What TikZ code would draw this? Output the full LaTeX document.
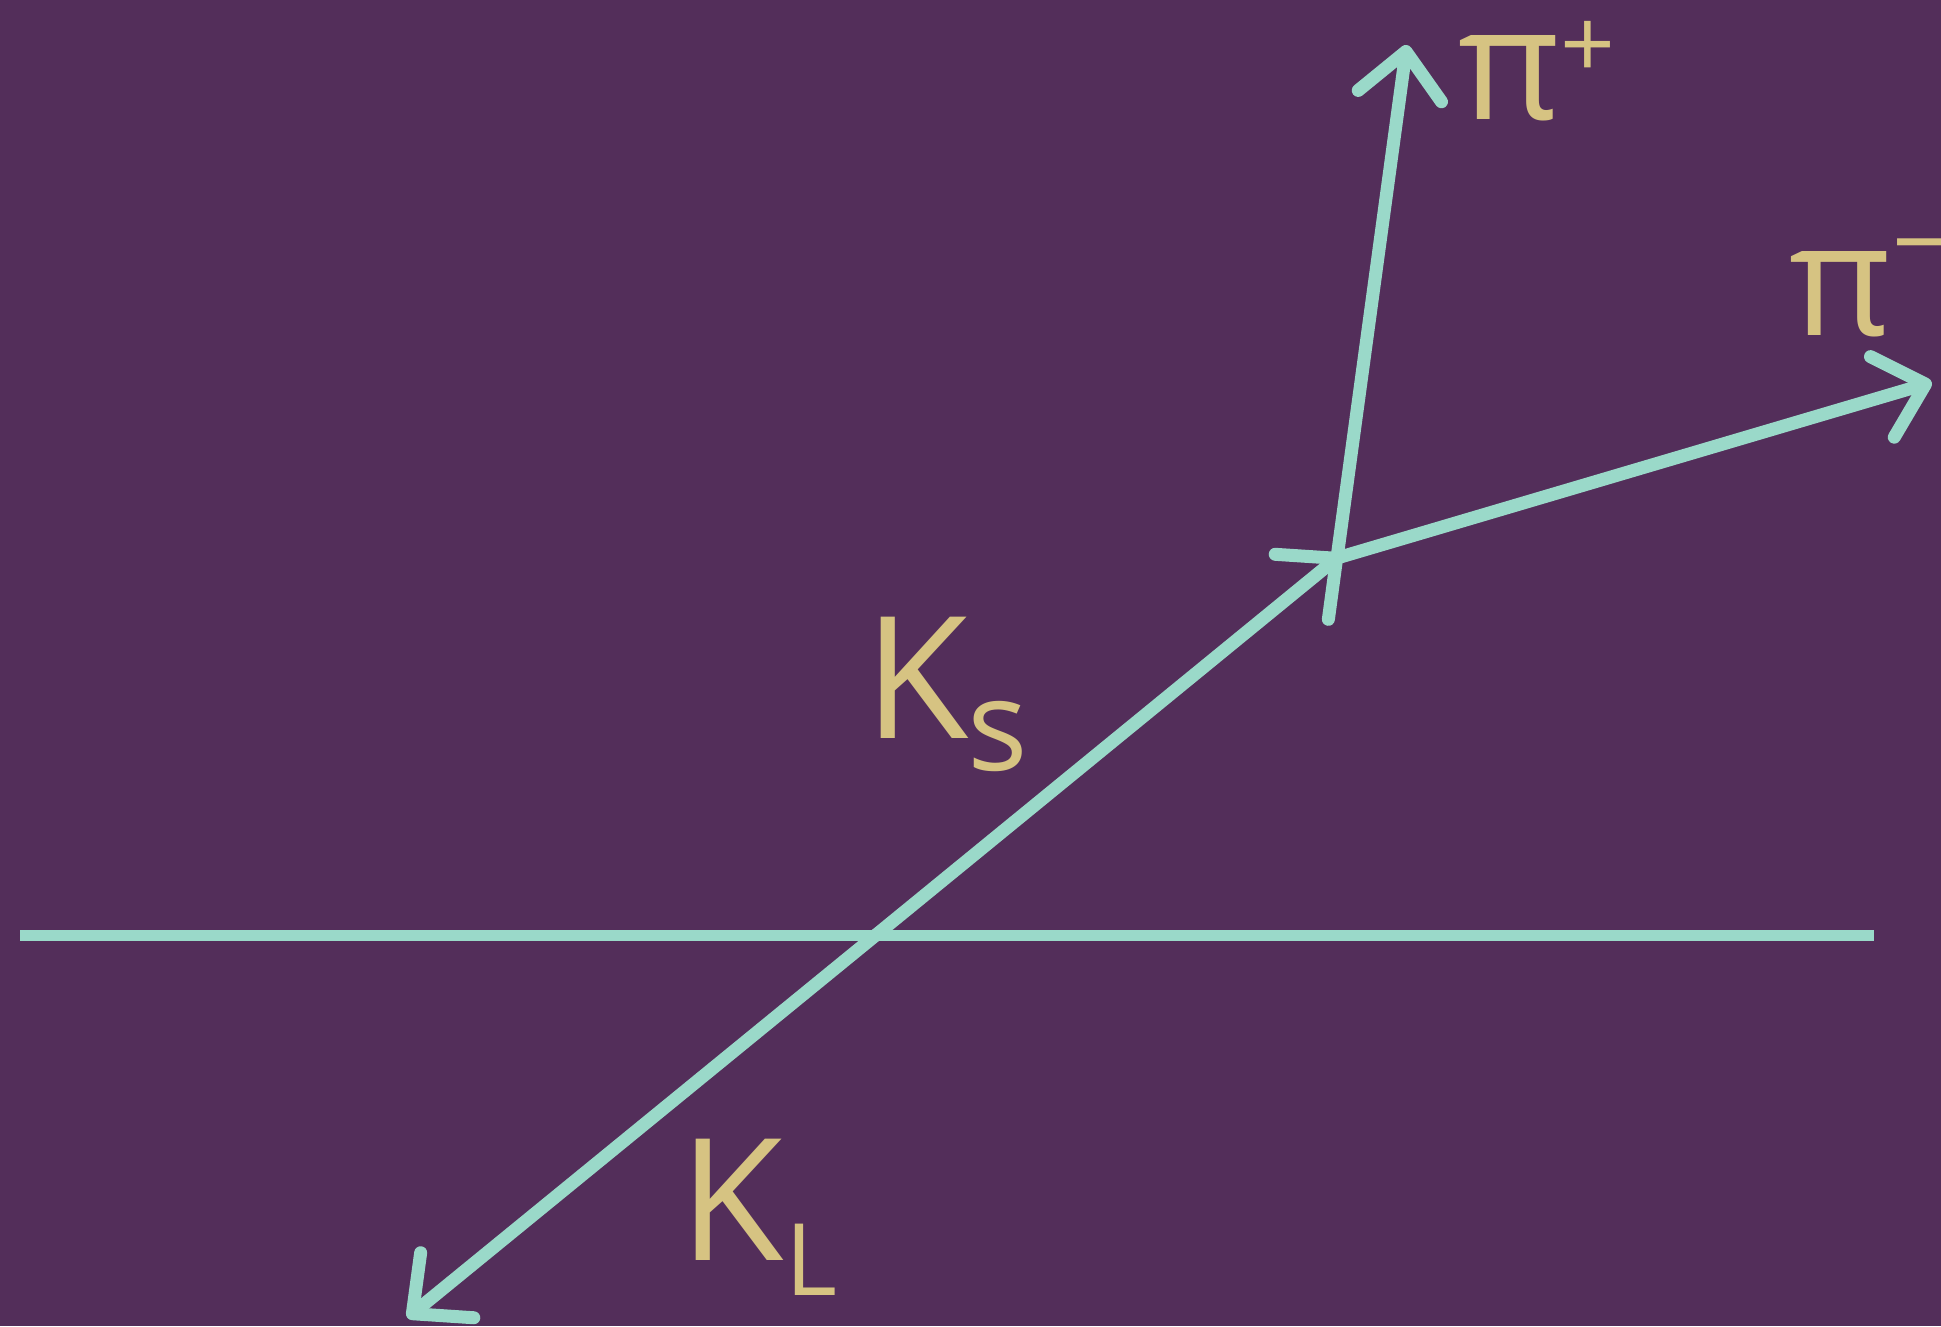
\documentclass[tikz,border=0pt]{standalone}
\usepackage{fontspec}
\setmainfont{Open Sans}
\usetikzlibrary{arrows.meta}
\definecolor{bg}{RGB}{83,46,90}
\definecolor{mint}{RGB}{154,217,201}
\definecolor{gold}{RGB}{214,195,130}
\begin{document}
\begin{tikzpicture}[x=1pt,y=-1pt,
  track/.style={draw=mint, line width=13pt, line cap=round, shorten >=-6pt, -{Straight Barb[round,length=45pt,width=84pt]}},
  axisline/.style={draw=mint, line width=11pt},
  lbl/.style={text=gold, inner sep=0pt, anchor=base west},
]
\fill[bg] (0,0) rectangle (1941,1326);
\useasboundingbox (0,0) rectangle (1941,1326);
\coordinate (v) at (1337,558);
\coordinate (kl) at (412,1314);
\coordinate (pp) at (1406,51);
\coordinate (pm) at (1926,384);
\coordinate (hl) at (20,935);
\coordinate (hr) at (1874,935);
\coordinate (x) at (876,935);
\draw[axisline] (hl) -- (hr);
\draw[track] (x) -- (v);
\draw[track] (x) -- (kl);
\draw[track] (v) -- (pp);
\draw[track] (v) -- (pm);
\node[lbl] (ks) at (864,738) {\fontsize{170}{170}\selectfont K\hspace{-1pt}\raisebox{-32pt}{\fontsize{127}{127}\selectfont s}};
\node[lbl] (klabel) at (679,1260) {\fontsize{170}{170}\selectfont K\hspace{2pt}\raisebox{-35pt}{\fontsize{100}{100}\selectfont L}};
\node[lbl] (pip) at (1458,119) {\fontsize{157}{157}\selectfont π\raisebox{41pt}{\fontsize{96}{96}\selectfont +}};
\node[lbl] (pim) at (1789,335) {\fontsize{157}{157}\selectfont π\raisebox{68pt}{\fontsize{94}{94}\selectfont \scalebox{1.6}[1]{\textendash}}};
\end{tikzpicture}
\end{document}
